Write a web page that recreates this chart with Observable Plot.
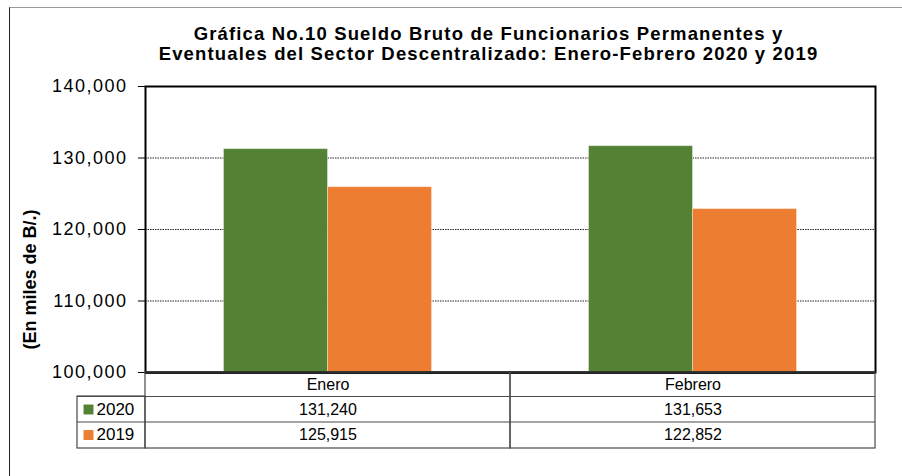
<!DOCTYPE html>
<html>
<head>
<meta charset="utf-8">
<script src="https://cdn.jsdelivr.net/npm/d3@7"></script>
<script src="https://cdn.jsdelivr.net/npm/@observablehq/plot@0.6"></script>
<style>
  html, body { margin: 0; padding: 0; background: #fff; }
  #wrap { position: relative; width: 902px; height: 476px; overflow: hidden; }
  #border { position: absolute; left: 9px; top: 7px; width: 900px; height: 480px;
            border-left: 1.5px solid #222; border-top: 1.5px solid #9a9a9a; pointer-events: none; }
  #wrap svg { font-family: "Liberation Sans", Arial, sans-serif; }
  #wrap svg g[aria-label="y-axis tick label"] text,
  #wrap svg g[aria-label="y-axis"] g text { font-size: 18px; letter-spacing: 1.5px; }
</style>
</head>
<body>
<div id="wrap"><div id="border"></div></div>
<script>
// ---- data ----
const titleLines = [
  "Gráfica No.10 Sueldo Bruto de Funcionarios Permanentes y",
  "Eventuales del Sector Descentralizado: Enero-Febrero 2020 y 2019"
];
const yLabel = "(En miles de B/.)";
const months = ["Enero", "Febrero"];
const series = ["2020", "2019"];
const values2020 = [131240, 131653];
const values2019 = [125915, 122852];
const colors = ["#548235", "#ED7D31"];
const yDomain = [100000, 140000];
const yTicks = [100000, 110000, 120000, 130000, 140000];
const gridTicks = [110000, 120000, 130000];

const seriesValues = {"2020": values2020, "2019": values2019};
const data = months.flatMap((m, i) => series.map(s => ({month: m, series: s, value: seriesValues[s][i]})));
const fmt = d3.format(",");

const lineColor = "#4a4a4a";
const marks = [
  // gridlines
  Plot.ruleY(gridTicks, {stroke: "#222", strokeWidth: 1, strokeDasharray: "1.5,1"}),
];
// bars, split inside each month band
const barInsets = {"2020": [78.5, 182.5], "2019": [182.5, 78.5]};
series.forEach(s => {
  marks.push(Plot.barY(data.filter(d => d.series === s), {
    x: "month", y1: () => yDomain[0], y2: "value", fill: "series",
    stroke: "#fff", strokeOpacity: 0.35, strokeWidth: 1,
    insetLeft: barInsets[s][0], insetRight: barInsets[s][1]
  }));
});
marks.push(
  Plot.frame({stroke: "#000", strokeWidth: 2}),
  Plot.ruleY([yDomain[0]], {stroke: "#000", strokeWidth: 2.5}),
  // data table: month columns
  Plot.cell(months, {x: d => d, fill: "none", stroke: lineColor, strokeWidth: 1.2, insetTop: 286, insetBottom: -76}),
  // legend column
  Plot.cell([months[0]], {x: d => d, fill: "none", stroke: lineColor, strokeWidth: 1.2,
    insetLeft: -68, insetRight: 365, insetTop: 310, insetBottom: -76}),
  Plot.ruleY([yDomain[0]], {dy: 24, insetLeft: -68, stroke: lineColor, strokeWidth: 1.2}),
  Plot.ruleY([yDomain[0]], {dy: 49.5, insetLeft: -68, stroke: lineColor, strokeWidth: 1.2}),
  Plot.text(months, {x: d => d, text: d => d, frameAnchor: "bottom", lineAnchor: "middle", dy: 12.5, fontSize: 16, fill: "#000"})
);
series.forEach((s, i) => {
  const dy = 37 + i * 25.5;
  marks.push(
    Plot.text(data.filter(d => d.series === s), {x: "month", text: d => fmt(d.value), frameAnchor: "bottom", lineAnchor: "middle", dy, fontSize: 16, fill: "#000"}),
    Plot.dot([s], {frameAnchor: "bottom-left", dx: -57, dy, symbol: "square", r: 5.6, fill: colors[i], stroke: "none"}),
    Plot.text([s], {frameAnchor: "bottom-left", dx: -49, dy, text: d => d, textAnchor: "start", lineAnchor: "middle", fontSize: 17, fill: "#000"})
  );
});
marks.push(
  Plot.text([yLabel], {frameAnchor: "left", dx: -115, dy: 50, rotate: -90, text: d => d, textAnchor: "middle", lineAnchor: "middle", fontWeight: "bold", fontSize: 18, fill: "#000"}),
  Plot.text([titleLines.join("\n")], {frameAnchor: "top", dx: -22, dy: -43, text: d => d, textAnchor: "middle", lineAnchor: "middle", lineHeight: 1.06, fontWeight: "bold", fontSize: 18.5, fill: "#000"})
);

const chart = Plot.plot({
  width: 902,
  height: 476,
  marginLeft: 145,
  marginRight: 27,
  marginTop: 86,
  marginBottom: 104,
  style: {fontFamily: "'Liberation Sans', Arial, sans-serif", fontSize: "16px", color: "#000", background: "transparent", overflow: "visible"},
  x: {domain: months, padding: 0, axis: null},
  y: {domain: yDomain, ticks: yTicks, tickFormat: fmt, tickSize: 7, tickPadding: 11, label: null},
  color: {domain: series, range: colors},
  marks
});
// widen the title letters like the reference
d3.select(chart).selectAll("text")
  .filter(function() { return this.textContent.startsWith(titleLines[0]); })
  .style("letter-spacing", "1.15px");
document.getElementById("wrap").appendChild(chart);
</script>
</body>
</html>
